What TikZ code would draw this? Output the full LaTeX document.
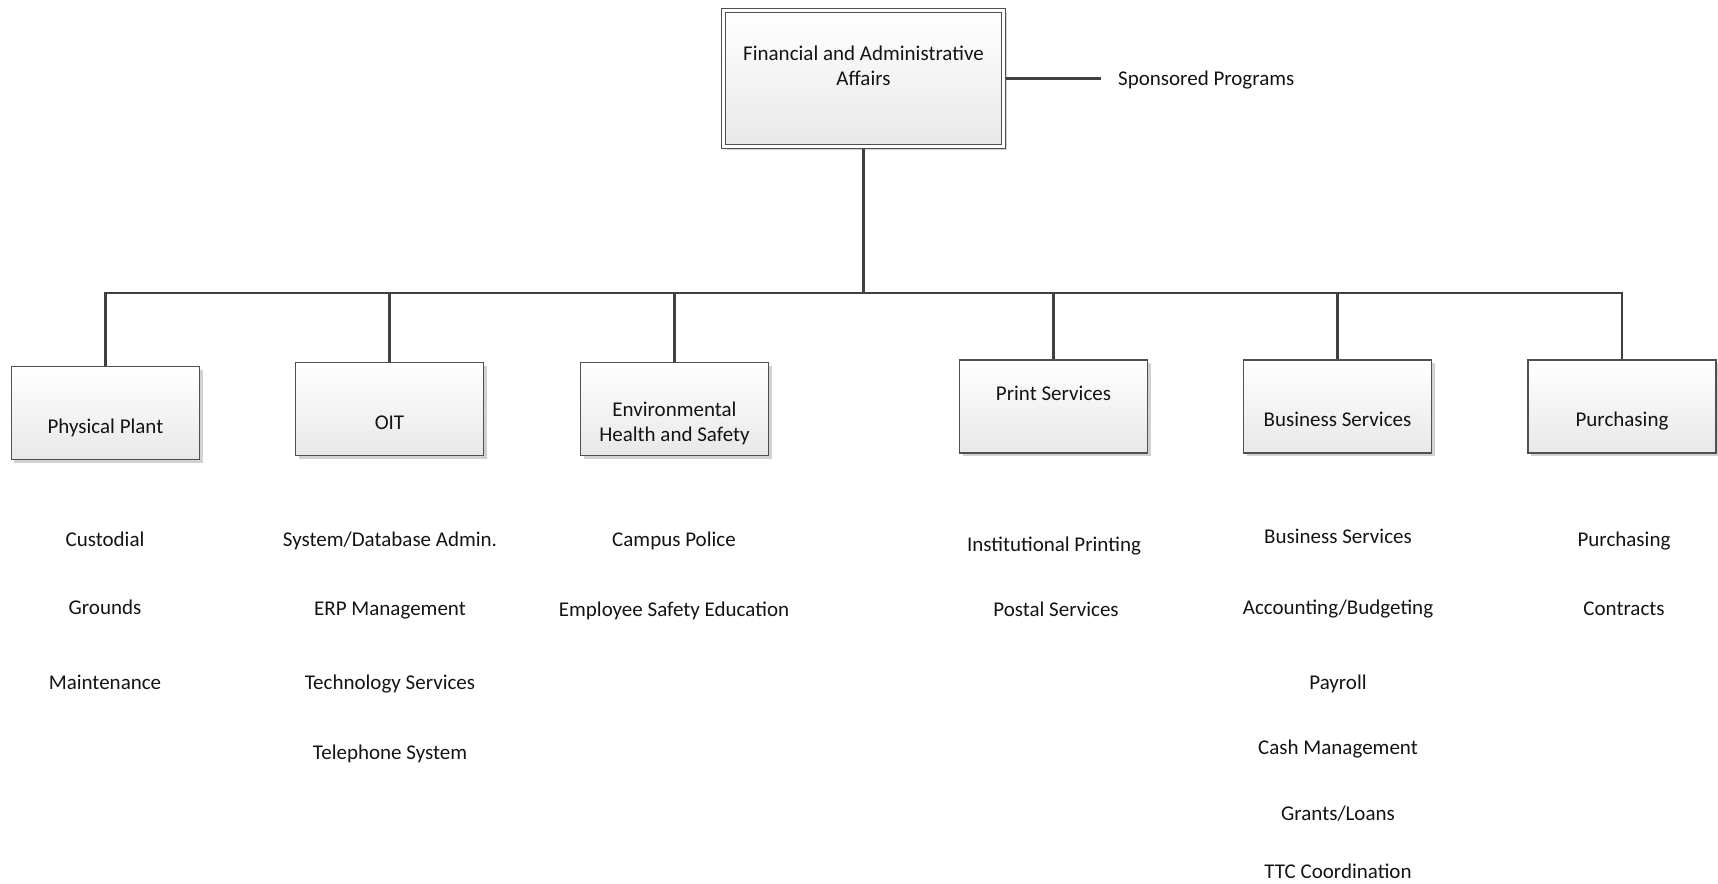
\documentclass[tikz,border=0pt]{standalone}
\usepackage{fontspec}
\setmainfont{Carlito}
\usepackage{tikz}
\usetikzlibrary{shadows}
\definecolor{boxline}{RGB}{80,80,80}
\definecolor{boxgray}{RGB}{232,232,232}
\definecolor{linkgray}{RGB}{64,64,64}
\definecolor{txtblack}{RGB}{20,20,20}
\newcommand{\orgfont}{\fontsize{21bp}{24.5bp}\selectfont}

\begin{document}
\begin{tikzpicture}[
  x=1bp,y=-1bp,
  font=\orgfont,text=txtblack,
  orgbox/.style={draw=boxline,line width=1.4bp,top color=white,
    bottom color=boxgray,minimum width=188bp,minimum height=93bp,
    align=center,inner sep=2bp,
    drop shadow={shadow xshift=3bp,shadow yshift=-3bp,
      fill=black,opacity=0.18}},
  topbox/.style={orgbox,double,double distance=2.6bp,line width=1.2bp,
    minimum width=280bp,minimum height=136bp,outer sep=2.5bp,
    text height=13bp,text depth=0pt},
  lowtxt/.style={text height=40bp,text depth=0pt},
  hightxt/.style={text height=0pt,text depth=12bp},
  item/.style={anchor=base,inner sep=0pt},
  link/.style={draw=linkgray,line width=2.2bp},
]
\useasboundingbox (0,0) rectangle (1718,883);

% head box
\node[topbox](faa)at(863.5,78.5){Financial and Administrative\\Affairs};
\node[anchor=base west,inner xsep=17bp,inner ysep=0pt](spp)
  at(1101,85){Sponsored Programs};

% department boxes
\node[orgbox,lowtxt](pp)at(105.5,413){Physical Plant};
\node[orgbox,lowtxt](oit)at(389.5,409){OIT};
\node[orgbox,text height=64bp,text depth=0pt](ehs)
  at(674.5,409){Environmental\\Health and Safety};
\node[orgbox,hightxt](prt)at(1053.5,406.5){Print Services};
\node[orgbox,lowtxt](bsv)at(1337.5,406.5){Business Services};
\node[orgbox,lowtxt](pur)at(1622,406.5){Purchasing};

% connectors
\coordinate(bus)at(863.5,293);
\draw[link](faa.east)--(faa.east-|spp.west);
\draw[link](faa.south)--(bus);
\draw[link](bus)-|(pp.north);
\draw[link](bus)-|(oit.north);
\draw[link](bus)-|(ehs.north);
\draw[link](bus)-|(prt.north);
\draw[link](bus)-|(bsv.north);
\draw[link](bus)-|(pur.north);

% units below each box
\node[item](pp1)at(105,546){Custodial};
\node[item](pp2)at(105,614){Grounds};
\node[item](pp3)at(105,689){Maintenance};

\node[item](oit1)at(390,546){System/Database Admin.};
\node[item](oit2)at(390,615){ERP Management};
\node[item](oit3)at(390,689){Technology Services};
\node[item](oit4)at(390,759){Telephone System};

\node[item](ehs1)at(674,546){Campus Police};
\node[item](ehs2)at(674,616){Employee Safety Education};

\node[item](prt1)at(1054,551){Institutional Printing};
\node[item](prt2)at(1056,616){Postal Services};

\node[item](bsv1)at(1338,543){Business Services};
\node[item](bsv2)at(1338,614){Accounting/Budgeting};
\node[item](bsv3)at(1338,689){Payroll};
\node[item](bsv4)at(1338,754){Cash Management};
\node[item](bsv5)at(1338,820){Grants/Loans};
\node[item](bsv6)at(1338,878){TTC Coordination};

\node[item](pur1)at(1624,546){Purchasing};
\node[item](pur2)at(1624,615){Contracts};
\end{tikzpicture}
\end{document}
